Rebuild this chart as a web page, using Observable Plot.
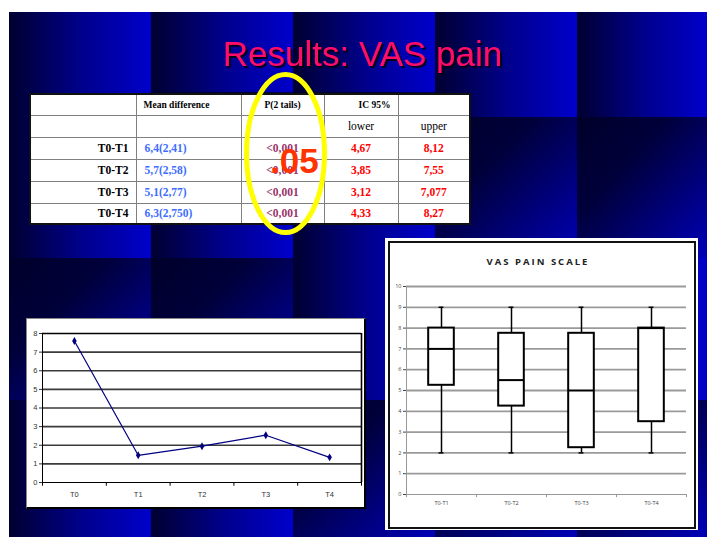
<!DOCTYPE html>
<html>
<head>
<meta charset="utf-8">
<script src="https://cdn.jsdelivr.net/npm/d3@7"></script>
<script src="https://cdn.jsdelivr.net/npm/@observablehq/plot@0.6"></script>
<style>
  html, body { margin: 0; padding: 0; background: #fff; }
  #page { position: relative; width: 707px; height: 537px; overflow: hidden; background: #fff; }
  .abs { position: absolute; }
  #slide { left: 9px; top: 12px; width: 698px; height: 525px; background: #000060; overflow: hidden; }
  .tile { position: absolute; }
  table.res { position: absolute; left: 29px; top: 93px; width: 440px; height: 130px;
    border-collapse: collapse; table-layout: fixed; background: #fff; border: 2px solid #111;
    font-family: "Liberation Serif", "Times New Roman", serif; }
  table.res td { border: 1.5px solid #808080; padding: 0; vertical-align: middle; white-space: nowrap; overflow: hidden; }
  .hdr { font-weight: bold; font-size: 9.5px; color: #000; }
  .sub { font-size: 11.5px; color: #000; text-align: center; }
  .lab { font-weight: bold; font-size: 11.5px; text-align: right; padding-right: 7px !important; color: #000; }
  .mean { font-weight: bold; font-size: 11.5px; color: #3d6dff; padding-left: 8px !important; }
  .pv { font-weight: bold; font-size: 11.5px; color: #99336a; text-align: center; }
  .ci { font-weight: bold; font-size: 11.5px; color: #ff0000; text-align: center; }
  #lineBox { left: 26px; top: 318px; width: 337px; height: 188px; background: #fff;
    border-left: 1px solid #888; border-top: 1px solid #888; border-right: 2px solid #000; border-bottom: 2px solid #000; }
  #boxOuter { left: 385px; top: 238px; width: 313px; height: 292px; background: #fff; }
  #boxInner { left: 388px; top: 241px; width: 304px; height: 284px; border: 2px solid #111; background: #fff; }
  #boxTitle { left: 388px; top: 255px; width: 300px; text-align: center; font-family: "Open Sans", "DejaVu Sans", sans-serif;
    font-weight: bold; font-size: 9.5px; letter-spacing: 2px; color: #222; }
</style>
</head>
<body>
<div id="page">
  <div id="slide" class="abs"></div>
  <table class="res" id="tbl"></table>
  <div id="lineBox" class="abs"></div>
  <div id="lineChart" class="abs" style="left:26px; top:319px;"></div>
  <div id="boxOuter" class="abs"></div>
  <div id="boxInner" class="abs"></div>
  <div id="boxTitle" class="abs">VAS PAIN SCALE</div>
  <div id="boxChart" class="abs" style="left:388px; top:241px;"></div>
  <svg id="overlay" class="abs" style="left:0; top:0;" width="707" height="537">
    <defs>
      <filter id="shadow" x="-10%" y="-30%" width="120%" height="160%">
        <feDropShadow dx="2" dy="2" stdDeviation="0.4" flood-color="#000010" flood-opacity="0.9"/>
      </filter>
    </defs>
  </svg>
</div>
<script>
// ---------------- data ----------------
const tableHeaders = ["Mean difference", "P(2 tails)", "IC 95%"];
const ciHeaders = ["lower", "upper"];
const rowLabels = ["T0-T1", "T0-T2", "T0-T3", "T0-T4"];
const meanDiff = ["6,4(2,41)", "5,7(2,58)", "5,1(2,77)", "6,3(2,750)"];
const pValues = ["<0,001", "<0,001", "<0,001", "<0,001"];
const ciLower = ["4,67", "3,85", "3,12", "4,33"];
const ciUpper = ["8,12", "7,55", "7,077", "8,27"];

const timeLabels = ["T0", "T1", "T2", "T3", "T4"];
const vasMeans = [7.6, 1.46, 1.95, 2.54, 1.35];
const lineYTicks = [0, 1, 2, 3, 4, 5, 6, 7, 8];

const pairLabels = ["T0-T1", "T0-T2", "T0-T3", "T0-T4"];
const boxMin = [2, 2, 2, 2];
const boxQ1 = [5.25, 4.25, 2.25, 3.5];
const boxMedian = [7, 5.5, 5, 8];
const boxQ3 = [8, 7.75, 7.75, 8];
const boxMax = [9, 9, 9, 9];
const boxYTicks = [0, 1, 2, 3, 4, 5, 6, 7, 8, 9, 10];

const titleText = "Results: VAS pain";
const noteText = ".05";

// ---------------- background tiles (decoration) ----------------
const bgTiles = [
  [9, 12, 151, 225, "h"], [9, 225, 151, 258, "h"], [9, 258, 151, 400, "d"], [9, 400, 151, 537, "h"],
  [151, 12, 293, 92, "h"], [151, 92, 293, 225, "d"], [151, 225, 293, 258, "h"], [151, 258, 293, 400, "d"], [151, 400, 293, 537, "h"],
  [293, 12, 435, 92, "h"], [293, 92, 435, 225, "d"], [293, 225, 435, 258, "h"], [293, 258, 435, 400, "h"], [293, 400, 435, 537, "d"],
  [435, 12, 577, 117, "h"], [435, 117, 577, 258, "d"], [435, 258, 577, 400, "h"], [435, 400, 577, 537, "d"],
  [577, 12, 707, 117, "h"], [577, 117, 707, 258, "d"], [577, 258, 707, 400, "h"], [577, 400, 707, 537, "d"]
];
const slide = document.getElementById("slide");
for (const [x0, y0, x1, y1, k] of bgTiles) {
  const t = document.createElement("div");
  t.className = "tile";
  t.style.left = (x0 - 9) + "px"; t.style.top = (y0 - 12) + "px";
  t.style.width = (x1 - x0) + "px"; t.style.height = (y1 - y0) + "px";
  t.style.background = k === "h"
    ? "linear-gradient(to right, #000030 0%, #00008a 50%, #0000cc 100%)"
    : "linear-gradient(to bottom right, #00002a 0%, #00003a 35%, #0000b8 100%)";
  slide.appendChild(t);
}

// ---------------- table ----------------
const tbl = document.getElementById("tbl");
const colW = [106, 105, 83, 74, 72];
const cg = document.createElement("colgroup");
colW.forEach(w => { const c = document.createElement("col"); c.style.width = w + "px"; cg.appendChild(c); });
tbl.appendChild(cg);
function addRow(h, cells) {
  const tr = document.createElement("tr");
  tr.style.height = h + "px";
  cells.forEach(([txt, cls, style]) => {
    const td = document.createElement("td");
    td.textContent = txt;
    if (cls) td.className = cls;
    if (style) td.setAttribute("style", style);
    tr.appendChild(td);
  });
  tbl.appendChild(tr);
}
addRow(21, [["", ""], [tableHeaders[0], "hdr", "padding-left:7px"], [tableHeaders[1], "hdr", "text-align:center"],
  [tableHeaders[2], "hdr", "text-align:right;padding-right:7px"], ["", ""]]);
addRow(22, [["", ""], ["", ""], ["", ""], [ciHeaders[0], "sub"], [ciHeaders[1], "sub"]]);
rowLabels.forEach((r, i) => {
  addRow(i === 3 ? 21 : 22, [[r, "lab"], [meanDiff[i], "mean"], [pValues[i], "pv"], [ciLower[i], "ci"], [ciUpper[i], "ci"]]);
});

// ---------------- line chart ----------------
const idx5 = timeLabels.map((d, i) => i);
const bounds5 = d3.range(-0.5, timeLabels.length, 1);
const lineChart = Plot.plot({
  width: 337, height: 188,
  marginLeft: 16, marginRight: 2, marginTop: 14, marginBottom: 25,
  style: {fontFamily: "'Liberation Sans', Arial, sans-serif", fontSize: "7.5px", color: "#333", background: "transparent", overflow: "visible"},
  x: {domain: [-0.5, timeLabels.length - 0.5], ticks: idx5, tickFormat: i => timeLabels[i], tickSize: 0, tickPadding: 9, label: null},
  y: {domain: [0, 8], ticks: lineYTicks, tickSize: 3, tickPadding: 2, label: null},
  marks: [
    Plot.ruleY(lineYTicks.filter(v => v > 0 && v < 8), {stroke: "#3a3a3a", strokeWidth: 1.7}),
    Plot.ruleY([8], {stroke: "#000", strokeWidth: 1.6}),
    Plot.ruleY([0], {stroke: "#000", strokeWidth: 1}),
    Plot.ruleX([-0.5], {stroke: "#000", strokeWidth: 1}),
    Plot.ruleX([timeLabels.length - 0.5], {stroke: "#000", strokeWidth: 1.6}),
    Plot.ruleX(bounds5, {y1: 0, y2: -0.2, stroke: "#000", strokeWidth: 1}),
    Plot.line(vasMeans, {x: (d, i) => i, y: d => d, stroke: "#000080", strokeWidth: 1.2}),
    Plot.dot(vasMeans, {x: (d, i) => i, y: d => d, symbol: "diamond", r: 2.4, fill: "#000080", stroke: "none"})
  ]
});
document.getElementById("lineChart").appendChild(lineChart);

// ---------------- box plot ----------------
const idx4 = pairLabels.map((d, i) => i);
const bounds4 = d3.range(-0.5, pairLabels.length, 1);
const boxHalf = 0.183, capHalf = 0.035;
const boxChart = Plot.plot({
  width: 303, height: 285,
  marginLeft: 18, marginRight: 5, marginTop: 45, marginBottom: 32,
  style: {fontFamily: "'Open Sans', 'DejaVu Sans', sans-serif", fontSize: "5.5px", color: "#444", background: "transparent", overflow: "visible"},
  x: {domain: [-0.5, pairLabels.length - 0.5], ticks: idx4, tickFormat: i => pairLabels[i], tickSize: 0, tickPadding: 7, label: null},
  y: {domain: [0, 10], ticks: boxYTicks, tickSize: 3, tickPadding: 2, label: null},
  marks: [
    Plot.ruleY(boxYTicks.filter(v => v > 0), {stroke: "#9a9a9a", strokeWidth: 1.8}),
    Plot.ruleY([0], {stroke: "#999", strokeWidth: 1}),
    Plot.ruleX([-0.5], {stroke: "#999", strokeWidth: 1}),
    Plot.ruleX(bounds4, {y1: 0, y2: -0.15, stroke: "#999", strokeWidth: 1}),
    Plot.ruleX(idx4, {x: i => i, y1: i => boxQ3[i], y2: i => boxMax[i], stroke: "#000", strokeWidth: 1.5}),
    Plot.ruleX(idx4, {x: i => i, y1: i => boxMin[i], y2: i => boxQ1[i], stroke: "#000", strokeWidth: 1.5}),
    Plot.ruleY(idx4, {y: i => boxMax[i], x1: i => i - capHalf, x2: i => i + capHalf, stroke: "#000", strokeWidth: 1.5}),
    Plot.ruleY(idx4, {y: i => boxMin[i], x1: i => i - capHalf, x2: i => i + capHalf, stroke: "#000", strokeWidth: 1.5}),
    Plot.rect(idx4, {x1: i => i - boxHalf, x2: i => i + boxHalf, y1: i => boxQ1[i], y2: i => boxQ3[i], fill: "#fff", stroke: "#000", strokeWidth: 2}),
    Plot.ruleY(idx4, {y: i => boxMedian[i], x1: i => i - boxHalf, x2: i => i + boxHalf, stroke: "#000", strokeWidth: 2})
  ]
});
document.getElementById("boxChart").appendChild(boxChart);

// ---------------- overlay: title, ellipse, .05 ----------------
const ov = d3.select("#overlay");
const tf = "'Liberation Sans', Arial, sans-serif";
ov.append("text").attr("x", 362.5).attr("y", 66).attr("text-anchor", "middle")
  .attr("font-family", tf).attr("font-size", 35).attr("fill", "#ff0a66")
  .attr("filter", "url(#shadow)").text(titleText);
ov.append("ellipse").attr("cx", 285.5).attr("cy", 153.5).attr("rx", 39).attr("ry", 79)
  .attr("fill", "none").attr("stroke", "#ffff00").attr("stroke-width", 5);
ov.append("text").attr("x", 270).attr("y", 173).attr("font-family", tf).attr("font-weight", "bold")
  .attr("font-size", 35).attr("fill", "#ff3300").text(noteText);
</script>
</body>
</html>
